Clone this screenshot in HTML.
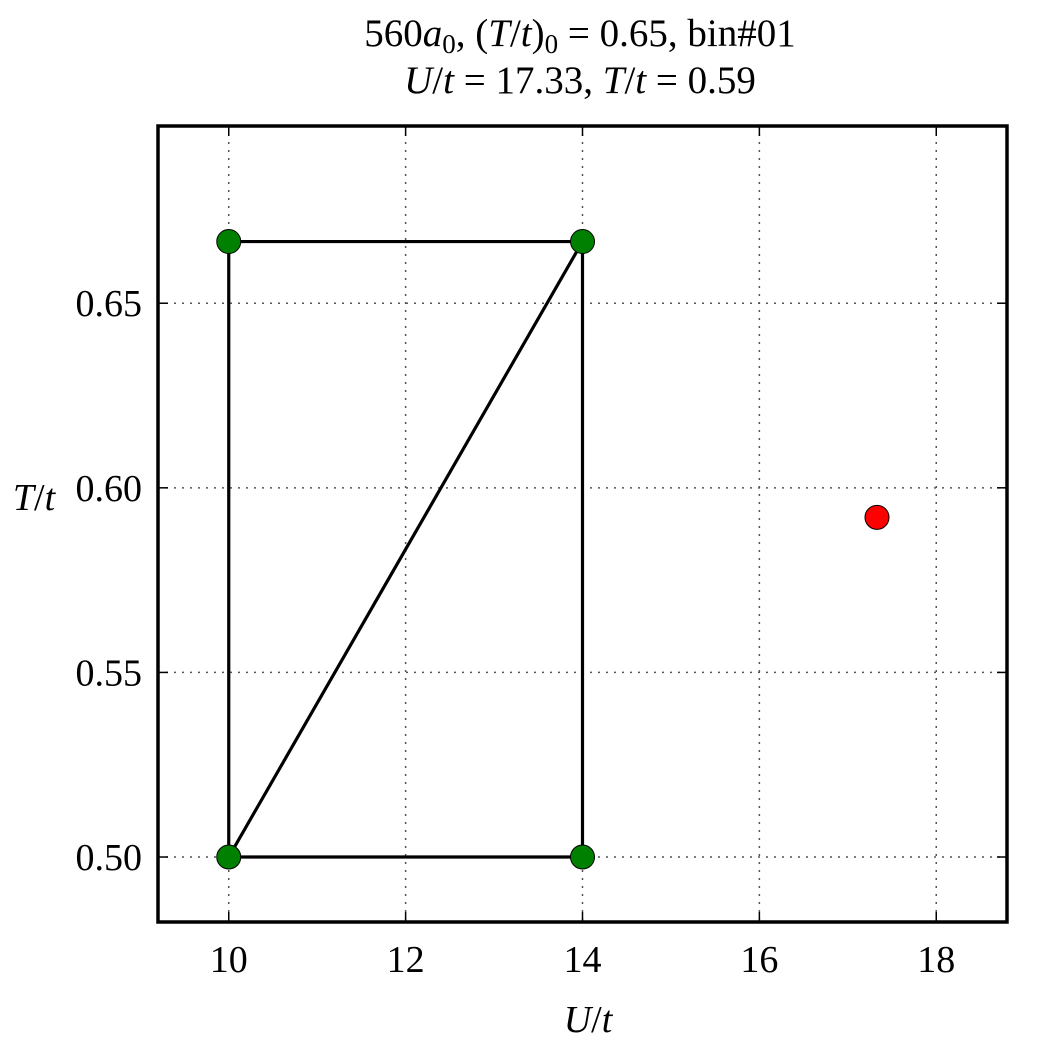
<!DOCTYPE html>
<html><head><meta charset="utf-8"><style>
html,body{margin:0;padding:0;background:#fff;}
svg text{font-family:"Liberation Serif",serif;fill:#000;}
</style></head><body>
<svg id="chart" width="1050" height="1050" xmlns="http://www.w3.org/2000/svg">
<text x="580" y="46" font-size="39" text-anchor="middle">560<tspan font-style="italic">a</tspan><tspan font-size="27" dy="7">0</tspan><tspan dy="-7">, (</tspan><tspan font-style="italic">T</tspan>/<tspan font-style="italic">t</tspan>)<tspan font-size="27" dy="7">0</tspan><tspan dy="-7"> = 0.65, bin#01</tspan></text>
<text x="580" y="93" font-size="39" text-anchor="middle"><tspan font-style="italic">U</tspan>/<tspan font-style="italic">t</tspan> = 17.33,  <tspan font-style="italic">T</tspan>/<tspan font-style="italic">t</tspan> = 0.59</text>
<text x="588" y="1032" font-size="38" text-anchor="middle"><tspan font-style="italic">U</tspan>/<tspan font-style="italic">t</tspan></text>
<text x="34" y="510" font-size="38" text-anchor="middle"><tspan font-style="italic">T</tspan>/<tspan font-style="italic">t</tspan></text>
<g id="grid"></g><g id="ticks"></g><g id="lines"></g><g id="points"></g>
<rect x="158" y="126" width="849" height="796" fill="none" stroke="#000" stroke-width="3.5"/>
</svg>
<script>
const xTicks=[10,12,14,16,18];
const yTicks=[0.50,0.55,0.60,0.65];
const yTickLabels=["0.50","0.55","0.60","0.65"];
const gridU=[10,14];
const gridT=[0.5,0.6667];
const targetU=[17.33];
const targetT=[0.592];
const L=158,R=1007,T=126,B=922,x0=9.2,x1=18.8,y0=0.4824,y1=0.698;
const sx=v=>L+(v-x0)/(x1-x0)*(R-L);
const sy=v=>B-(v-y0)/(y1-y0)*(B-T);
const NS="http://www.w3.org/2000/svg";
function mk(parent,tag,attrs){const e=document.createElementNS(NS,tag);for(const k in attrs)e.setAttribute(k,attrs[k]);document.getElementById(parent).appendChild(e);return e;}
xTicks.forEach(v=>{const X=sx(v);
let g=mk('grid','line',{x1:X,x2:X,y1:T,y2:B,stroke:'#555','stroke-width':1.5,'stroke-dasharray':'2,6'});


mk('ticks','line',{x1:X,x2:X,y1:B,y2:B-10,stroke:'#000','stroke-width':1.5});
mk('ticks','line',{x1:X,x2:X,y1:T,y2:T+10,stroke:'#000','stroke-width':1.5});
let t=mk('ticks','text',{x:X,y:B+50,'font-size':38,'text-anchor':'middle'});t.textContent=v;

});
yTicks.forEach((v,i)=>{const Y=sy(v);
let g=mk('grid','line',{x1:L,x2:R,y1:Y,y2:Y,stroke:'#555','stroke-width':1.5,'stroke-dasharray':'2,6'});


mk('ticks','line',{x1:L,x2:L+10,y1:Y,y2:Y,stroke:'#000','stroke-width':1.5});
mk('ticks','line',{x1:R,x2:R-10,y1:Y,y2:Y,stroke:'#000','stroke-width':1.5});
let t=mk('ticks','text',{x:L-16,y:Y+13,'font-size':38,'text-anchor':'end'});t.textContent=yTickLabels[i];

});
const pts=[[gridU[0],gridT[0]],[gridU[1],gridT[0]],[gridU[1],gridT[1]],[gridU[0],gridT[1]]];
const path="M"+[pts[0],pts[1],pts[2],pts[3],pts[0],pts[2]].map(p=>sx(p[0])+","+sy(p[1])).join(" L");
let pl=mk('lines','path',{d:path,fill:'none',stroke:'#000','stroke-width':3.2,'stroke-linejoin':'miter'});


pts.forEach(p=>{let c=mk('points','circle',{cx:sx(p[0]),cy:sy(p[1]),r:12,fill:'#008000',stroke:'#000','stroke-width':1});

});
targetU.forEach((u,i)=>{let c=mk('points','circle',{cx:sx(u),cy:sy(targetT[i]),r:12,fill:'#ff0000',stroke:'#000','stroke-width':1});

});
</script>
</body></html>
